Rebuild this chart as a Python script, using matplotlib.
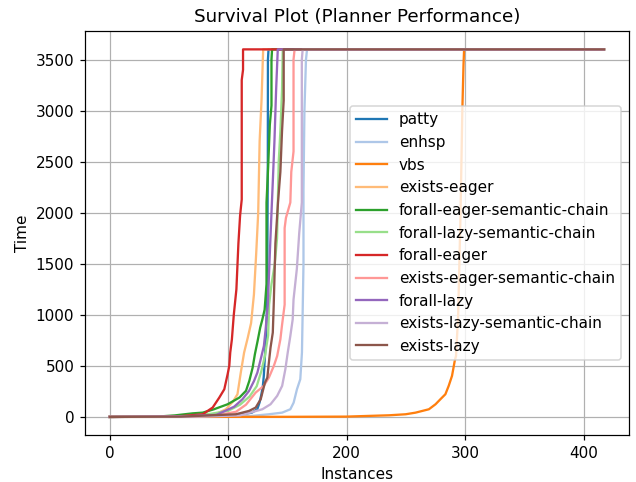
import matplotlib
matplotlib.use("Agg")
import matplotlib.pyplot as plt

# points (instance index, time)
patty_x = [0, 60, 100, 112, 120, 124.5, 126.4, 128, 129.2, 130, 131.5, 132.5, 133, 133.4, 133.5, 134, 417]
patty_y = [0, 2, 10, 26, 42, 75, 140, 222, 300, 400, 700, 1000, 1500, 2500, 3500, 3600, 3600]

enhsp_x = [0, 80, 120, 134.3, 145.5, 152.4, 155.2, 158, 160.8, 162.2, 162.7, 163.5, 163.5, 164.3, 165.6, 166.5, 417]
enhsp_y = [0, 3, 10, 26, 42, 75, 140, 271, 369, 630, 956, 1500, 2225, 3000, 3500, 3600, 3600]

vbs_x = [0, 150, 199.4, 235.8, 249.7, 258.1, 269.3, 274.9, 279, 283.2, 286, 288.8, 291.1, 292.2, 294, 296, 297.5, 298.5, 299, 417]
vbs_y = [0, 1, 3, 16, 26, 42, 75, 124, 173, 222, 304, 402, 549, 598, 1000, 2000, 3000, 3450, 3600, 3600]

ex_eager_x = [0, 60, 90, 98, 104, 107.8, 110.6, 113.4, 116.5, 119.3, 121.7, 123.6, 125.3, 126.5, 128.1, 129.2, 129.5, 417]
ex_eager_y = [0, 5, 30, 75, 150, 222, 434, 630, 776, 920, 1200, 1600, 2000, 2700, 3100, 3500, 3600, 3600]

fa_eager_sc_x = [0, 40, 55, 70, 78.5, 88, 99.5, 109.5, 115, 117.8, 120.6, 122.5, 124.8, 127, 128.7, 130.7, 132.3, 132.3, 133.7, 135.1, 136.5, 136.5, 137, 417]
fa_eager_sc_y = [0, 3, 15, 35, 42, 75, 124, 190, 256, 353, 483, 614, 744, 875, 950, 1050, 1300, 2100, 2450, 2861, 3050, 3500, 3600, 3600]

fa_lazy_sc_x = [0, 60, 85, 100, 110, 118, 124, 128, 131, 133.7, 134.5, 136.5, 139.3, 141.2, 142.6, 144, 145.4, 146, 417]
fa_lazy_sc_y = [0, 5, 30, 60, 120, 200, 300, 450, 600, 800, 1100, 1300, 1500, 1750, 2500, 2800, 3200, 3600, 3600]

fa_eager_x = [0, 40, 60, 78.5, 86.9, 92.5, 96.7, 99.5, 100.9, 101.7, 103.1, 104.7, 106.9, 108.6, 110, 111.4, 111.4, 112.5, 112.5, 417]
fa_eager_y = [0, 2, 8, 26, 92, 190, 271, 418, 500, 630, 760, 1000, 1250, 1700, 1970, 2130, 3300, 3400, 3600, 3600]

ex_eager_sc_x = [0, 60, 90, 106.5, 115, 123.2, 130, 134.3, 138.5, 141.3, 144, 145.4, 147.6, 147.6, 148.7, 152.4, 153.2, 155.1, 155.1, 156, 417]
ex_eager_sc_y = [0, 3, 15, 50, 120, 239, 304, 385, 500, 597, 760, 900, 1100, 1850, 1950, 2100, 2400, 2600, 3500, 3600, 3600]

fa_lazy_x = [0, 60, 90, 105, 112, 117.6, 121.8, 124.6, 127.4, 130.1, 131.5, 133.4, 135.1, 136.5, 137.6, 139, 140.4, 141.8, 417]
fa_lazy_y = [0, 4, 20, 100, 173, 255, 353, 434, 565, 695, 850, 1100, 1600, 2000, 2300, 2700, 3200, 3600, 3600]

ex_lazy_sc_x = [0, 80, 110, 128.8, 135.7, 141.3, 145.5, 148.2, 150.2, 152.4, 154.4, 155.1, 157.9, 159.9, 162.1, 162.1, 162.8, 417]
ex_lazy_sc_y = [0, 3, 15, 75, 124, 206, 304, 467, 630, 793, 956, 1150, 1450, 1800, 2100, 3500, 3600, 3600]

ex_lazy_x = [0, 60, 106.5, 117.6, 123.2, 127.4, 131, 133, 134.3, 135.7, 137.6, 138.4, 139.8, 142, 144, 145.4, 146.8, 146.8, 417]
ex_lazy_y = [0, 3, 26, 59, 92, 173, 337, 385, 532, 679, 826, 1100, 1700, 2100, 2400, 2800, 3100, 3600, 3600]

names = ["patty", "enhsp", "vbs", "exists-eager", "forall-eager-semantic-chain",
         "forall-lazy-semantic-chain", "forall-eager", "exists-eager-semantic-chain",
         "forall-lazy", "exists-lazy-semantic-chain", "exists-lazy"]
xs = [patty_x, enhsp_x, vbs_x, ex_eager_x, fa_eager_sc_x, fa_lazy_sc_x,
      fa_eager_x, ex_eager_sc_x, fa_lazy_x, ex_lazy_sc_x, ex_lazy_x]
ys = [patty_y, enhsp_y, vbs_y, ex_eager_y, fa_eager_sc_y, fa_lazy_sc_y,
      fa_eager_y, ex_eager_sc_y, fa_lazy_y, ex_lazy_sc_y, ex_lazy_y]

cmap = plt.get_cmap("tab20")

# text in the reference is ~10% bigger than 100 dpi, so render at 110 dpi
plt.figure(figsize=(636 / 110, 482 / 110), dpi=110)
for i, (name, x, y) in enumerate(zip(names, xs, ys)):
    plt.plot(x, y, label=name, color=cmap(i))

plt.title("Survival Plot (Planner Performance)")
plt.xlabel("Instances")
plt.ylabel("Time")
plt.grid(True)
plt.legend(loc="center right")
plt.subplots_adjust(left=0.1336, right=0.9885, top=0.9357, bottom=0.0969)
plt.savefig("out.png", dpi=110)
